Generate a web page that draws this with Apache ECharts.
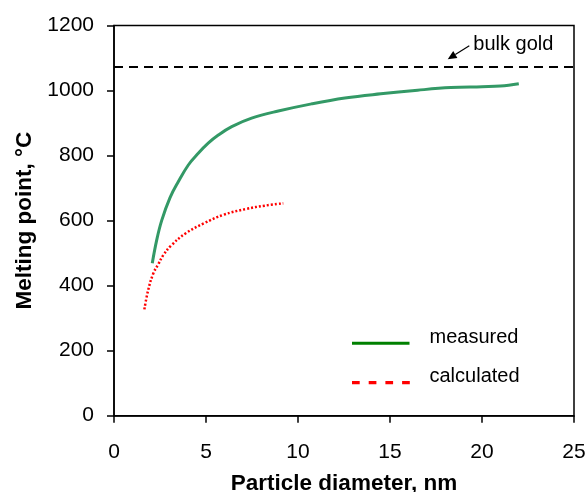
<!DOCTYPE html>
<html>
<head>
<meta charset="utf-8">
<script src="https://cdn.jsdelivr.net/npm/echarts@6/dist/echarts.min.js"></script>
<style>html,body{margin:0;padding:0;background:#fff}#c{width:587px;height:492px}</style>
</head>
<body>
<div id="c"></div>
<script>
const measuredX = [2.08, 2.32, 2.59, 3.04, 3.5, 4.04, 4.58, 5.12, 5.67, 6.4, 7.48, 8.93, 10.74, 12.55, 14.5, 16.5, 18.3, 20.0, 21.0, 22.0];
const measuredY = [469, 540, 600, 670, 720, 771, 807, 838, 863, 889, 915, 937, 959, 977, 990, 1001, 1009, 1012, 1014, 1021];
const calculatedX = [1.65, 1.86, 2.14, 2.4, 2.68, 3.1, 3.9, 4.9, 5.95, 7.2, 8.2, 9.2];
const calculatedY = [327, 387, 438, 465, 494, 523, 561, 592, 618, 636, 646, 653];
const bulkGold = 1073;
const xTicks = [0, 5, 10, 15, 20, 25];
const yTicks = [0, 200, 400, 600, 800, 1000, 1200];

const FONT = "'Liberation Sans', Arial, sans-serif";
const chart = echarts.init(document.getElementById('c'), null, {renderer: 'canvas'});
const zip = (xs, ys) => xs.map((x, i) => [x, ys[i]]);

chart.setOption({
  animation: false,
  backgroundColor: '#fff',
  grid: {left: 114, right: 13, top: 25.5, bottom: 76.3, show: true, borderColor: '#000', borderWidth: 1.5, backgroundColor: 'transparent', containLabel: false, outerBoundsMode: 'none'},
  xAxis: {
    type: 'value', min: xTicks[0], max: xTicks[xTicks.length - 1], interval: 5,
    name: 'Particle diameter, nm', nameLocation: 'middle', nameGap: 57,
    nameTextStyle: {fontFamily: FONT, fontSize: 22.5, fontWeight: 'bold', color: '#000'},
    axisLine: {show: true, lineStyle: {color: '#000', width: 1.5}},
    axisTick: {show: true, inside: false, length: 7, lineStyle: {color: '#000', width: 1.5}},
    axisLabel: {fontFamily: FONT, fontSize: 21, color: '#000', margin: 26, formatter: v => String(v)},
    splitLine: {show: false}
  },
  yAxis: {
    type: 'value', min: yTicks[0], max: yTicks[yTicks.length - 1], interval: 200,
    name: 'Melting point, °C', nameLocation: 'middle', nameGap: 67, nameRotate: 90,
    nameTextStyle: {fontFamily: FONT, fontSize: 22.5, fontWeight: 'bold', color: '#000'},
    axisLine: {show: true, lineStyle: {color: '#000', width: 1.5}},
    axisTick: {show: true, inside: false, length: 7, lineStyle: {color: '#000', width: 1.5}},
    axisLabel: {fontFamily: FONT, fontSize: 21, color: '#000', margin: 20, formatter: v => String(v)},
    splitLine: {show: false}
  },
  series: [
    {
      name: 'measured', type: 'line', data: zip(measuredX, measuredY),
      smooth: 0.4, symbol: 'none',
      lineStyle: {color: '#339966', width: 3},
      markLine: {
        silent: true, symbol: 'none', label: {show: false},
        lineStyle: {color: '#000', width: 2, type: [9, 6]},
        data: [{yAxis: bulkGold}]
      }
    },
    {
      name: 'calculated', type: 'line', data: zip(calculatedX, calculatedY),
      smooth: 0.4, symbol: 'none',
      lineStyle: {color: '#ff0000', width: 2.5, type: [2, 2]}
    }
  ],
  graphic: [
    {type: 'line', shape: {x1: 352, y1: 343.3, x2: 409.5, y2: 343.3}, style: {stroke: '#008000', lineWidth: 3}},
    {type: 'text', x: 429.5, y: 337, style: {text: 'measured', font: '20px ' + FONT, fill: '#000', textVerticalAlign: 'middle'}},
    {type: 'line', shape: {x1: 352, y1: 382.7, x2: 410, y2: 382.7}, style: {stroke: '#ff0000', lineWidth: 3.3, lineDash: [7.7, 9]}},
    {type: 'text', x: 429.5, y: 376, style: {text: 'calculated', font: '20px ' + FONT, fill: '#000', textVerticalAlign: 'middle'}},
    {type: 'text', x: 473.3, y: 44.8, style: {text: 'bulk gold', font: '20px ' + FONT, fill: '#000', textVerticalAlign: 'middle'}},
    {type: 'line', shape: {x1: 469.3, y1: 45.7, x2: 455.3, y2: 54.5}, style: {stroke: '#000', lineWidth: 1.2}},
    {type: 'polygon', shape: {points: [[447.7, 59.3], [457.4, 57.9], [453.2, 51.1]]}, style: {fill: '#000'}}
  ]
});
</script>
</body>
</html>
